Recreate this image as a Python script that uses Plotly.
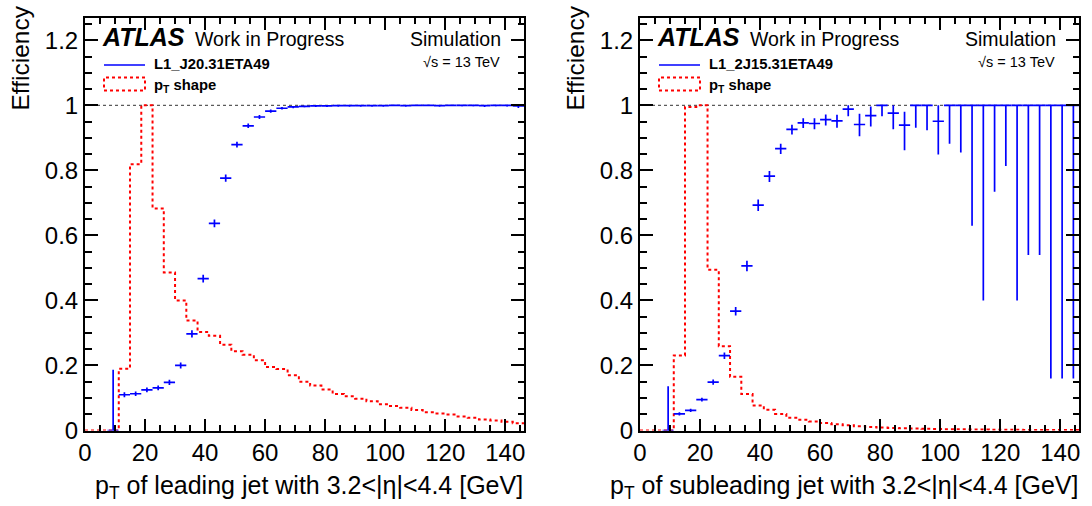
import plotly.graph_objects as go

# ---------------- data ----------------
BIN_W = 3.75
N_BINS = 39
X_MAX = 146.25

# pT shape (normalised), one value per bin starting at 0 GeV
left_shape = [0.0, 0.0, 0.0, 0.190, 0.819, 1.000, 0.683, 0.486, 0.400, 0.338,
              0.303, 0.291, 0.264, 0.244, 0.233, 0.216, 0.195, 0.189, 0.170, 0.150,
              0.138, 0.126, 0.112, 0.105, 0.098, 0.090, 0.081, 0.075, 0.070, 0.063,
              0.056, 0.052, 0.049, 0.043, 0.039, 0.034, 0.031, 0.027, 0.022]
right_shape = [0.0, 0.0, 0.0, 0.231, 0.995, 1.000, 0.494, 0.259, 0.165, 0.112,
               0.077, 0.064, 0.051, 0.039, 0.033, 0.028, 0.023, 0.019, 0.016, 0.013,
               0.011, 0.009, 0.008, 0.007, 0.006, 0.005, 0.0045, 0.004, 0.0035, 0.003,
               0.0028, 0.0025, 0.0022, 0.002, 0.0018, 0.0016, 0.0015, 0.0013, 0.0012]

# efficiencies, bins 2..38
FIRST_EFF_BIN = 2
left_eff = [0.0, 0.110, 0.113, 0.125, 0.131, 0.148, 0.200, 0.297, 0.467, 0.637,
            0.776, 0.879, 0.937, 0.964, 0.982, 0.991, 0.995, 0.997, 0.998, 0.998,
            0.999, 0.999, 0.999, 0.999, 0.999, 1.0, 0.999, 1.0, 1.0, 0.999,
            1.0, 1.0, 1.0, 0.999, 1.0, 1.0, 0.998]
left_err_lo = [0.0, 0.008, 0.007, 0.007, 0.007, 0.008, 0.009, 0.011, 0.012, 0.012,
               0.011, 0.009, 0.007, 0.006, 0.005, 0.004, 0.004, 0.003, 0.003, 0.003,
               0.003, 0.003, 0.003, 0.003, 0.003, 0.002, 0.003, 0.002, 0.002, 0.003,
               0.002, 0.003, 0.003, 0.004, 0.003, 0.004, 0.006]
left_err_hi = [0.187, 0.008, 0.007, 0.007, 0.007, 0.008, 0.009, 0.011, 0.012, 0.012,
               0.011, 0.009, 0.007, 0.006, 0.005, 0.004, 0.003, 0.002, 0.002, 0.002,
               0.001, 0.001, 0.001, 0.001, 0.001, 0.0, 0.001, 0.0, 0.0, 0.001,
               0.0, 0.0, 0.0, 0.001, 0.0, 0.0, 0.002]

right_eff = [0.0, 0.051, 0.062, 0.095, 0.149, 0.230, 0.367, 0.506, 0.693, 0.782,
             0.867, 0.926, 0.946, 0.944, 0.956, 0.952, 0.988, 0.941, 0.968, 1.0,
             0.976, 0.939, 1.0, 1.0, 0.951, 1.0, 1.0, 1.0, 1.0, 1.0,
             1.0, 1.0, 1.0, 1.0, 1.0, 1.0, 1.0]
right_err_lo = [0.0, 0.005, 0.005, 0.006, 0.008, 0.010, 0.013, 0.016, 0.018, 0.018,
                0.017, 0.016, 0.016, 0.018, 0.018, 0.021, 0.022, 0.036, 0.033, 0.034,
                0.050, 0.077, 0.069, 0.077, 0.102, 0.118, 0.145, 0.370, 0.600, 0.266,
                0.187, 0.600, 0.460, 0.460, 0.840, 0.840, 0.840]
right_err_hi = [0.136, 0.005, 0.005, 0.006, 0.008, 0.010, 0.013, 0.016, 0.017, 0.016,
                0.015, 0.014, 0.014, 0.016, 0.016, 0.019, 0.012, 0.033, 0.028, 0.0,
                0.024, 0.041, 0.0, 0.0, 0.049, 0.0, 0.0, 0.0, 0.0, 0.0,
                0.0, 0.0, 0.0, 0.0, 0.0, 0.0, 0.0]

y_ticks = [0, 0.2, 0.4, 0.6, 0.8, 1, 1.2]
x_ticks = [0, 20, 40, 60, 80, 100, 120, 140]

panels = [
    dict(shape=left_shape, eff=left_eff, lo=left_err_lo, hi=left_err_hi,
         trigger="L1_J20.31ETA49", jet="leading"),
    dict(shape=right_shape, eff=right_eff, lo=right_err_lo, hi=right_err_hi,
         trigger="L1_2J15.31ETA49", jet="subleading"),
]

# ---------------- layout geometry (pixels) ----------------
W, H = 1092, 506
FRAME_L = [85, 640]
FRAME_W = 439
FRAME_TOP, FRAME_BOT = 17.5, 430.5
FONT = "Liberation Sans, Arial, Helvetica, sans-serif"


def px(xp):
    return xp / W


def py(yp):
    return 1 - yp / H


edges = [i * BIN_W for i in range(N_BINS + 1)]
centers = [(i + 0.5) * BIN_W for i in range(N_BINS)]

fig = go.Figure()
annotations = []
shapes = []

for k, p in enumerate(panels):
    xa = "x" if k == 0 else "x2"
    ya = "y" if k == 0 else "y2"
    # red pT shape histogram
    fig.add_trace(go.Scatter(
        x=edges, y=p["shape"] + [p["shape"][-1]],
        mode="lines", line=dict(shape="hv", color="#ff0000", width=2, dash="3px,3px"),
        xaxis=xa, yaxis=ya, showlegend=False, hoverinfo="skip"))
    # blue efficiency with errors
    xc = centers[FIRST_EFF_BIN:FIRST_EFF_BIN + len(p["eff"])]
    fig.add_trace(go.Scatter(
        x=xc, y=p["eff"], mode="markers",
        marker=dict(size=1, color="#0000ff"),
        error_x=dict(type="constant", value=BIN_W / 2, color="#0000ff", thickness=1.7, width=0),
        error_y=dict(type="data", array=p["hi"], arrayminus=p["lo"], symmetric=False,
                     color="#0000ff", thickness=1.7, width=0),
        xaxis=xa, yaxis=ya, showlegend=False))

    x0 = FRAME_L[k]
    dref_x = "x domain" if k == 0 else "x2 domain"
    # dashed line at 1
    shapes.append(dict(type="line", xref=dref_x, yref=ya, x0=0, x1=1, y0=1, y1=1,
                       line=dict(color="#333333", width=1, dash="3px,3px"), layer="below"))
    # legend samples
    shapes.append(dict(type="line", xref="paper", yref="paper",
                       x0=px(x0 + 19), x1=px(x0 + 60), y0=py(65), y1=py(65),
                       line=dict(color="#0000ff", width=1.5)))
    shapes.append(dict(type="rect", xref="paper", yref="paper",
                       x0=px(x0 + 19), x1=px(x0 + 60), y0=py(90.5), y1=py(77.5),
                       line=dict(color="#ff0000", width=2, dash="3px,3px")))

    annotations += [
        dict(text="<b><i>ATLAS</i></b>", x=px(x0 + 15), y=py(37), xanchor="left", yanchor="middle",
             font=dict(size=25, family=FONT, color="black")),
        dict(text="Work in Progress", x=px(x0 + 107.5), y=py(38.5), xanchor="left", yanchor="middle",
             font=dict(size=19.5, family=FONT, color="black")),
        dict(text="Simulation", x=px(x0 + 418), y=py(38.5), xanchor="right", yanchor="middle",
             font=dict(size=19.5, family=FONT, color="black")),
        dict(text="√s = 13 TeV", x=px(x0 + 417), y=py(62), xanchor="right", yanchor="middle",
             font=dict(size=14.5, family=FONT, color="black")),
        dict(text="<b>" + p["trigger"] + "</b>", x=px(x0 + 67), y=py(64), xanchor="left", yanchor="middle",
             font=dict(size=14.8, family=FONT, color="black")),
        dict(text="<b>p<sub>T</sub> shape</b>", x=px(x0 + 67), y=py(86), xanchor="left", yanchor="middle",
             font=dict(size=14.8, family=FONT, color="black")),
        dict(text="Efficiency", textangle=-90, x=px(x0 - 65), y=py(4), xanchor="center", yanchor="top",
             font=dict(size=24.5, family=FONT, color="black")),
        dict(text="p<sub>T</sub> of " + p["jet"] + " jet with 3.2<|η|<4.4 [GeV]",
             x=px(x0 + FRAME_W + 1), y=py(486.5), xanchor="right", yanchor="middle",
             font=dict(size=25, family=FONT, color="black")),
    ]

axis_common = dict(
    showline=True, linewidth=2, linecolor="black", mirror="allticks",
    ticks="inside", tickwidth=1.5, tickcolor="black",
    showgrid=False, zeroline=False, automargin=False,
    tickfont=dict(size=24, family=FONT, color="black"),
)

for k in range(2):
    sx = "" if k == 0 else "2"
    fig.update_layout(**{
        "xaxis" + sx: dict(axis_common, range=[0, X_MAX], tickvals=x_ticks, ticklen=12,
                           minor=dict(dtick=5, ticklen=6, ticks="inside", tickwidth=1.5, tickcolor="black"),
                           domain=[px(FRAME_L[k]), px(FRAME_L[k] + FRAME_W)],
                           anchor="y" + sx),
        "yaxis" + sx: dict(axis_common, range=[0, 1.27], tickvals=y_ticks, ticklen=13,
                           minor=dict(dtick=0.05, ticklen=6.5, ticks="inside", tickwidth=1.5, tickcolor="black"),
                           domain=[py(FRAME_BOT), py(FRAME_TOP)],
                           anchor="x" + sx),
    })

fig.update_layout(
    width=W, height=H, margin=dict(l=0, r=0, t=0, b=0, pad=0),
    paper_bgcolor="white", plot_bgcolor="white",
    annotations=[dict(a, xref="paper", yref="paper", showarrow=False) for a in annotations],
    shapes=shapes,
)

fig.write_html(
    "out.html",
    config={"displayModeBar": False},
    post_script="document.body.style.margin='0';document.body.style.padding='0';"
                "document.body.style.overflow='hidden';",
)
